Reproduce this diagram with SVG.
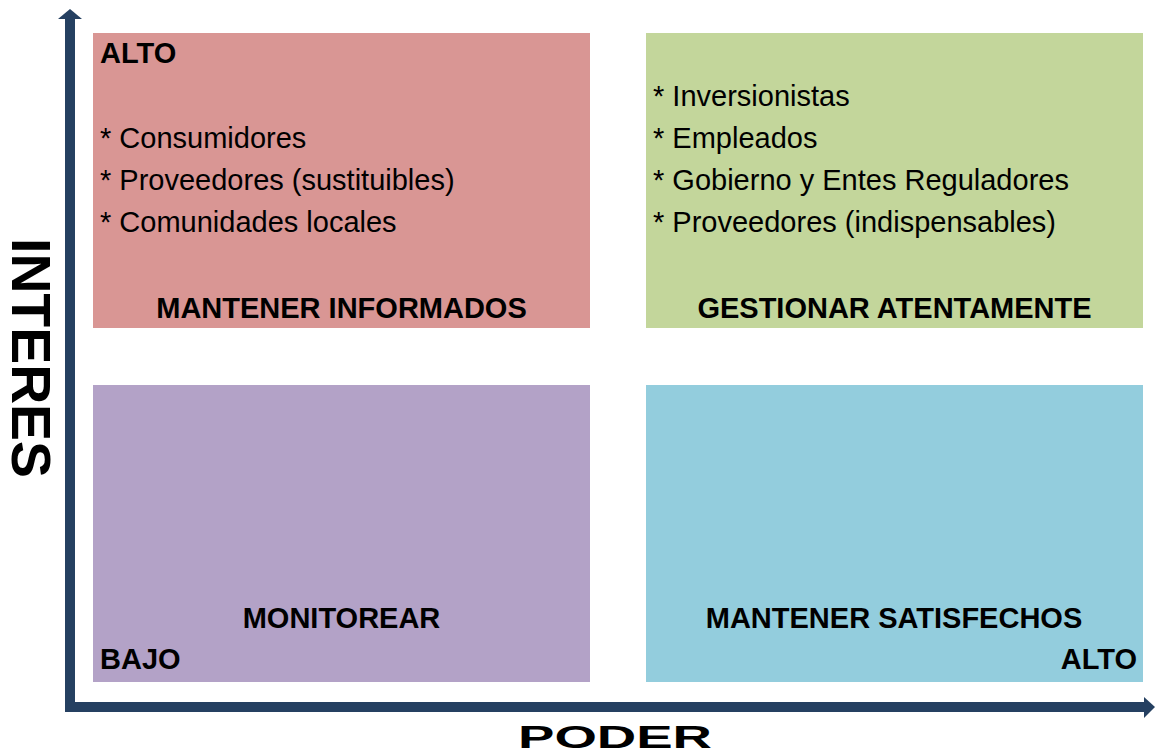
<svg xmlns="http://www.w3.org/2000/svg" width="1162" height="755" viewBox="0 0 1162 755">
<style>
text{font-family:"Liberation Sans",Arial,sans-serif;fill:#000;}
.b{font-weight:bold;font-size:29px;}
.r{font-size:29px;}
.c{text-anchor:middle;}
.ax{font-weight:bold;font-size:55px;}
</style>
<rect width="1162" height="755" fill="#fff"/>
<g id="q-alto-poder-bajo">
<rect x="93" y="33" width="497" height="295" fill="#D99694"/>
<text class="b" x="100" y="63">ALTO</text>
<text class="r" x="100" y="148">* Consumidores</text>
<text class="r" x="100" y="190">* Proveedores (sustituibles)</text>
<text class="r" x="100" y="232">* Comunidades locales</text>
<text class="b c" x="341.5" y="318">MANTENER INFORMADOS</text>
</g>
<g id="q-gestionar">
<rect x="646" y="33" width="497" height="295" fill="#C3D69B"/>
<text class="r" x="653" y="106">* Inversionistas</text>
<text class="r" x="653" y="148">* Empleados</text>
<text class="r" x="653" y="190">* Gobierno y Entes Reguladores</text>
<text class="r" x="653" y="232">* Proveedores (indispensables)</text>
<text class="b c" x="894.5" y="318">GESTIONAR ATENTAMENTE</text>
</g>
<g id="q-monitorear">
<rect x="93" y="385" width="497" height="297" fill="#B3A2C7"/>
<text class="b c" x="341.5" y="628">MONITOREAR</text>
<text class="b" x="100" y="669">BAJO</text>
</g>
<g id="q-satisfechos">
<rect x="646" y="385" width="497" height="297" fill="#93CDDD"/>
<text class="b c" x="894" y="628">MANTENER SATISFECHOS</text>
<text class="b" x="1137" y="669" text-anchor="end">ALTO</text>
</g>
<g id="axes">
<path d="M70,19 V707 H1144" fill="none" stroke="#254061" stroke-width="10"/>
<polygon points="58,19 70,9 82,19" fill="#254061"/>
<polygon points="1144,697 1155,707 1144,718" fill="#254061"/>
</g>
<g id="labels">
<text class="ax" transform="translate(12,238) rotate(90)" x="0" y="0" textLength="240" lengthAdjust="spacingAndGlyphs">INTERES</text>
<text x="518" y="748" font-weight="bold" font-size="32" textLength="194" lengthAdjust="spacingAndGlyphs">PODER</text>
</g>
</svg>
